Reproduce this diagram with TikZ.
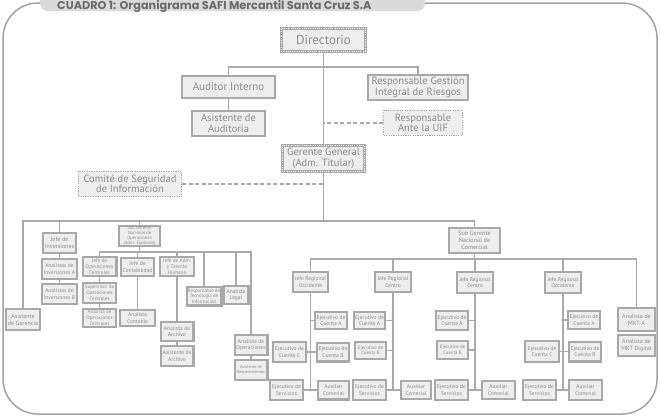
\documentclass[tikz,border=0pt]{standalone}
\usepackage{fontspec}
\setmainfont{PT Sans}
\newfontfamily\titlefont{Poppins}
\definecolor{boxline}{HTML}{A9A9A9}
\definecolor{boxfill}{HTML}{EEEEEE}
\definecolor{txtgray}{HTML}{8C8C8C}
\definecolor{linkgray}{HTML}{ABABAB}
\definecolor{framegray}{HTML}{A3A3A3}
\definecolor{tabfill}{HTML}{DADADA}
\definecolor{titlegray}{HTML}{6A6A6A}

\begin{document}
\begin{tikzpicture}[x=1pt, y=-1pt,
    orgbox/.style={draw=boxline, line width=2.4pt, fill=boxfill, text=txtgray, align=center, inner sep=0pt},
    dotbox/.style={orgbox, line width=3pt, postaction={draw=white, line width=0.9pt, dash pattern=on 0.9pt off 1.3pt}},
    thinbox/.style={draw=boxline, line width=1.3pt, dash pattern=on 1.2pt off 1.2pt, fill=boxfill, text=txtgray, align=center, inner sep=0pt},
    sz/.style 2 args={minimum width=#1pt-2.4pt, minimum height=#2pt-2.4pt},
    fs/.style 2 args={font=\fontsize{#1}{#2}\selectfont},
    ejec/.style={orgbox, fs={5.5}{6.3}},
    link/.style={draw=linkgray, line width=1.6pt},
    dashlink/.style={link, dash pattern=on 4pt off 2.5pt}]
    \clip (0,0) rectangle (660,418);

    % Frame and title tab
    \draw[framegray, line width=1.5pt, rounded corners=35pt] (3,3) rectangle (657,414);
    \fill[tabfill, rounded corners=8pt] (40,-20) rectangle (425,11);
    \node[anchor=base west, inner sep=0pt, text=titlegray, font=\titlefont\bfseries\fontsize{11.3}{11.3}\selectfont] (title) at (57,9.3)
        {CUADRO 1: Organigrama SAFI Mercantil Santa Cruz S.A};

    % Top level
    \node[dotbox, sz={87}{26}, fs={13}{13}] (dir) at (323.5,40) {Directorio};
    \node[orgbox, sz={95}{24}, fs={11}{11}] (audit) at (228.5,87) {Auditor Interno};
    \node[orgbox, sz={75}{27}, fs={10.5}{10.5}] (asisaud) at (228.5,123.5) {Asistente de\\Auditoria};
    \node[orgbox, sz={102}{27}, fs={10.5}{10.5}, line width=2pt] (riesgos) at (418,87.5) {Responsable Gestión\\Integral de Riesgos};
    \node[thinbox, sz={81}{28}, fs={10.5}{10.5}] (uif) at (423,123) {Responsable\\Ante la UIF};
    \node[dotbox, sz={85}{29}, fs={10.5}{10.5}] (gg) at (323.5,158.5) {Gerente General\\(Adm. Titular)};
    \node[thinbox, sz={106}{28}, fs={10.5}{10.5}] (comite) at (130,184) {Comité de Seguridad\\de Información};

    \coordinate (jdir) at (323.5,67);
    \draw[link] (dir.south) -- (gg.north);
    \draw[link] (audit.north) |- (jdir) -| (riesgos.north);
    \draw[link] (audit.south) -- (asisaud.north);
    \draw[dashlink] (uif.west) -- (uif.west -| dir.south);
    \draw[dashlink] (comite.east) -- (comite.east -| gg.south);

    % Operations branch
    \node[orgbox, sz={36}{23}, fs={6}{7}] (asisger) at (23,319.5) {Asistente\\de Gerencia};
    \node[orgbox, sz={35}{22}, fs={6}{7}] (jinv) at (59.5,243) {Jefe de\\Inversiones};
    \node[orgbox, sz={37}{22}, fs={5.5}{6.5}] (anaia) at (59.5,269) {Analistas de\\Inversiones A};
    \node[orgbox, sz={37}{22}, fs={5.5}{6.5}] (anaib) at (59.5,294) {Analistas de\\Inversiones B};
    \node[orgbox, sz={43}{22}, fs={4.6}{4.8}] (sgo) at (139.5,236) {Sub Gerente\\Nacional de\\Operaciones\\(Adm. Suplente)};
    \node[orgbox, sz={36}{21}, fs={5.2}{5.8}] (jopc) at (99.5,266.5) {Jefe de\\Operaciones\\Centrales};
    \node[orgbox, sz={35}{22}, fs={5}{5.8}] (supopc) at (99.5,293) {Supervisor de\\Operaciones\\Centrales};
    \node[orgbox, sz={35}{20}, fs={5}{5.8}] (anaopc) at (99.5,318) {Analista de\\Operaciones\\Centrales};
    \node[orgbox, sz={35}{20}, fs={5.5}{6.5}] (jcont) at (137.5,267) {Jefe de\\Contabilidad};
    \node[orgbox, sz={37}{18}, fs={5.5}{6.5}] (anacont) at (137.5,318) {Analista\\Contable};
    \node[orgbox, sz={36}{21}, fs={5.2}{5.8}] (jadm) at (177,266.5) {Jefe de Adm.\\y Talento\\Humano};
    \node[orgbox, sz={35}{21}, fs={5.5}{6.5}] (anaarch) at (177,331.5) {Analista de\\Archivo};
    \node[orgbox, sz={35}{22}, fs={5.5}{6.5}] (asisarch) at (177,356) {Asistente de\\Archivo};
    \node[orgbox, sz={37}{21}, fs={4.8}{5.5}] (restec) at (204,296) {Responsable de\\Tecnología de\\Información};
    \node[orgbox, sz={27}{20}, fs={5.5}{6.5}] (analeg) at (236,295) {Analista\\Legal};
    \node[orgbox, sz={35}{22}, fs={5.5}{6.5}] (anaope) at (251,345) {Analista de\\Operaciones};
    \node[orgbox, sz={35}{22}, fs={4.2}{4.8}] (asisreq) at (251,370) {Asistente de\\Requerimientos};

    % Commercial branch
    \node[orgbox, sz={53}{27}, fs={6.2}{7.2}] (sgc) at (474.5,240.5) {Sub Gerente\\Nacional de\\Comercial};
    \node[orgbox, sz={37}{22}, fs={5.5}{6.5}] (jro1) at (310.5,282) {Jefe Regional\\Occidente};
    \node[orgbox, sz={38}{22}, fs={5.5}{6.5}] (jrc1) at (393,282) {Jefe Regional\\Centro};
    \node[orgbox, sz={38}{23}, fs={5.5}{6.5}] (jrc2) at (475,282.5) {Jefe Regional\\Centro};
    \node[orgbox, sz={38}{23}, fs={5.5}{6.5}] (jro2) at (563,282.5) {Jefe Regional\\Occidente};
    \node[orgbox, sz={39}{25}, fs={6}{7}] (mkta) at (636.5,319.5) {Analista de\\MKT-A};
    \node[orgbox, sz={39}{23}, fs={6}{7}] (mktd) at (636.5,345.5) {Analista de\\MKT Digital};

    \node[ejec, sz={34}{19}] (eca1) at (331,320.5) {Ejecutivo de\\Cuenta A};
    \node[ejec, sz={34}{21}] (ecb1) at (333,352) {Ejecutivo de\\Cuenta B};
    \node[ejec, sz={35}{22}] (ecc1) at (289.5,352) {Ejecutivo de\\Cuenta C};
    \node[ejec, sz={35}{22}] (es1) at (286.5,390) {Ejecutivo de\\Servicios};
    \node[ejec, sz={33}{21}] (ac1) at (333.5,390) {Auxiliar\\Comerial};

    \node[ejec, sz={33}{19}] (eca2) at (369.5,320.5) {Ejecutivo de\\Cuenta A};
    \node[ejec, sz={33}{19}, fs={4.8}{5.6}] (ecb2) at (370.5,350.5) {Ejecutivo de\\Cuenta B};
    \node[ejec, sz={35}{22}] (es2) at (369.5,390) {Ejecutivo de\\Servicios};
    \node[ejec, sz={32}{20}] (ac2) at (416,390) {Auxiliar\\Comerial};

    \node[ejec, sz={34}{21}] (eca3) at (452,320.5) {Ejecutivo de\\Cuenta A};
    \node[ejec, sz={33}{20}, fs={4.8}{5.6}] (ecb3) at (452.5,350) {Ejecutivo de\\Cuenta B};
    \node[ejec, sz={35}{22}] (es3) at (451.5,390) {Ejecutivo de\\Servicios};
    \node[ejec, sz={35}{20}] (ac3) at (498.5,390) {Auxiliar\\Comerial};

    \node[ejec, sz={34}{20}] (eca4) at (584,320) {Ejecutivo de\\Cuenta A};
    \node[ejec, sz={34}{22}] (ecb4) at (585,351.5) {Ejecutivo de\\Cuenta B};
    \node[ejec, sz={36}{23}] (ecc4) at (542,351.5) {Ejecutivo de\\Cuenta C};
    \node[ejec, sz={35}{22}] (es4) at (539.5,390) {Ejecutivo de\\Servicios};
    \node[ejec, sz={35}{22}] (ac4) at (585.5,390) {Auxiliar\\Comerial};

    % Trunk below Gerente General
    \coordinate (jgg) at (323.5,221);
    \draw[link] (gg.south) -- (jgg);
    \draw[link] (asisger.north) |- (jgg) -| (sgc.north);
    \foreach \n in {jinv, sgo}
        \draw[link] (\n.north) -- (\n.north |- jgg);

    % Operations links
    \coordinate (jsgo) at (139.5,252);
    \draw[link] (sgo.south) -- (jsgo);
    \draw[link] (jopc.north) |- (jsgo) -| (anaope.north);
    \foreach \n in {jcont, jadm, restec, analeg}
        \draw[link] (\n.north) -- (\n.north |- jsgo);
    \foreach \a/\b in {jinv/anaia, anaia/anaib, jopc/supopc, supopc/anaopc, jcont/anacont,
                       jadm/anaarch, anaarch/asisarch, anaope/asisreq}
        \draw[link] (\a.south) -- (\b.north);

    % Commercial links
    \coordinate (jsgc) at (474.5,259);
    \draw[link] (sgc.south) -- (jsgc);
    \draw[link] (jro1.north) |- (jsgc) -| (mkta.north);
    \foreach \n in {jrc1, jrc2, jro2}
        \draw[link] (\n.north) -- (\n.north |- jsgc);
    \foreach \j/\r in {jro1/1, jrc1/2, jrc2/3, jro2/4} {
        \draw[link] (\j.south) -- (\j.south |- es\r.east);
        \draw[link] (es\r.east) -- (ac\r.west);
    }
    \draw[link] (eca1.west) -- (eca1.west -| jro1.south);
    \draw[link] (ecc1.east) -- (ecb1.west);
    \draw[link] (eca2.east) -- (eca2.east -| jrc1.south);
    \draw[link] (ecb2.east) -- (ecb2.east -| jrc1.south);
    \draw[link] (eca3.east) -- (eca3.east -| jrc2.south);
    \draw[link] (ecb3.east) -- (ecb3.east -| jrc2.south);
    \draw[link] (eca4.west) -- (eca4.west -| jro2.south);
    \draw[link] (ecc4.east) -- (ecb4.west);
\end{tikzpicture}
\end{document}
